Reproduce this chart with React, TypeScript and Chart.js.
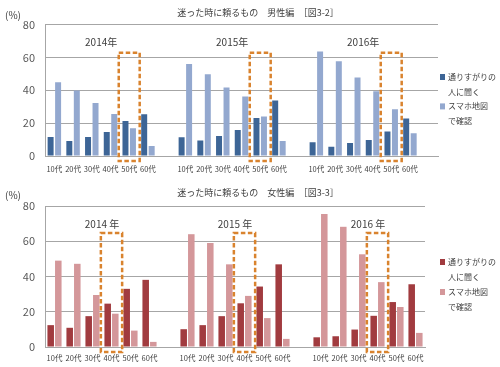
import React, { useEffect, useRef } from "react";
import { Chart, registerables } from "chart.js";
Chart.register(...registerables);

const FONT = '"Noto Sans CJK JP", "Noto Sans", sans-serif';

const AGES = ["10代", "20代", "30代", "40代", "50代", "60代"];
const MALE_YEARS = ["2014年", "2015年", "2016年"];
const FEMALE_YEARS = ["2014 年", "2015 年", "2016 年"];
const ASK_NAME = ["通りすがりの", "人に聞く"];
const MAP_NAME = ["スマホ地図", "で確認"];
const MALE_TITLE = "迷った時に頼るもの　男性編　［図3-2］";
const FEMALE_TITLE = "迷った時に頼るもの　女性編　［図3-3］";
const Y_TICKS = [0, 20, 40, 60, 80];

// 男性 (%)
const maleAsk2014 = [11.5, 9.1, 11.5, 14.6, 21.3, 25.4];
const maleMap2014 = [44.9, 39.9, 32.2, 25.6, 16.9, 6.1];
const maleAsk2015 = [11.4, 9.5, 12.1, 15.8, 23.1, 33.7];
const maleMap2015 = [56.0, 49.8, 41.6, 36.2, 24.0, 9.1];
const maleAsk2016 = [8.3, 5.7, 7.9, 9.7, 14.9, 22.8];
const maleMap2016 = [63.6, 57.6, 47.7, 39.4, 28.5, 13.9];

// 女性 (%)
const femaleAsk2014 = [12.4, 10.9, 17.5, 24.6, 33.0, 38.1];
const femaleMap2014 = [49.0, 47.2, 29.5, 18.9, 9.3, 2.9];
const femaleAsk2015 = [10.1, 12.4, 17.5, 24.8, 34.3, 46.9];
const femaleMap2015 = [64.0, 59.0, 46.9, 29.0, 16.4, 4.6];
const femaleAsk2016 = [5.5, 6.1, 9.9, 17.7, 25.5, 35.6];
const femaleMap2016 = [75.4, 68.2, 52.6, 36.8, 22.7, 8.0];

const MALE_HIGHLIGHT = "50代";
const FEMALE_HIGHLIGHT = "40代";

function joinGroups(groups: any[][], trailing: boolean, filler: any) {
  const out: any[] = [];
  groups.forEach((g, i) => {
    out.push(...g);
    if (i < groups.length - 1 || trailing) out.push(filler);
  });
  return out;
}

type Opts = {
  title: string;
  years: string[];
  highlight: string;
  labels: string[];
  ask: (number | null)[];
  map: (number | null)[];
  askColor: string;
  mapColor: string;
  padTop: number;
  padRight: number;
  xHeight: number;
  xPad: number;
  barPct: number;
  boxTop: number;
  legendY: number;
  legendStep: number;
};

function decor(o: Opts) {
  return {
    id: "decor",
    afterDraw(chart: any) {
      const ctx = chart.ctx;
      const xs = chart.scales.x;
      const ys = chart.scales.y;
      ctx.save();
      ctx.fillStyle = "#404040";
      ctx.textBaseline = "middle";
      ctx.font = `9px ${FONT}`;
      ctx.textAlign = "center";
      ctx.fillText(o.title, 258, 13);
      ctx.font = `10px ${FONT}`;
      ctx.textAlign = "left";
      ctx.fillText("(%)", 5, 15);
      const slot = xs.getPixelForValue(1) - xs.getPixelForValue(0);
      o.years.forEach((yr, g) => {
        const first = g * (AGES.length + 1);
        const last = first + AGES.length - 1;
        const cx = (xs.getPixelForValue(first) + xs.getPixelForValue(last)) / 2;
        ctx.fillStyle = "#404040";
        ctx.font = `10px ${FONT}`;
        ctx.textAlign = "center";
        ctx.fillText(yr, cx, ys.getPixelForValue(69.5));
        const hx = xs.getPixelForValue(first + AGES.indexOf(o.highlight));
        const half = slot * 0.56;
        const top = ys.getPixelForValue(o.boxTop);
        const bottom = ys.getPixelForValue(0) + 5;
        ctx.setLineDash([4.5, 2.5]);
        ctx.lineWidth = 2.5;
        ctx.strokeStyle = "#D9832E";
        ctx.strokeRect(hx - half, top, half * 2, bottom - top);
      });
      ctx.setLineDash([]);
      const lines: [string, string | null][] = [
        [ASK_NAME[0], o.askColor],
        [ASK_NAME[1], null],
        [MAP_NAME[0], o.mapColor],
        [MAP_NAME[1], null],
      ];
      ctx.font = `8px ${FONT}`;
      ctx.textAlign = "left";
      lines.forEach(([t, c], i) => {
        const y = o.legendY + i * o.legendStep;
        if (c) {
          ctx.fillStyle = c;
          ctx.fillRect(440, y - 3, 5, 6);
        }
        ctx.fillStyle = "#404040";
        ctx.fillText(t, 448, y);
      });
      ctx.restore();
    },
  };
}

function BarChart({ o, height }: { o: Opts; height: number }) {
  const ref = useRef<HTMLCanvasElement>(null);
  useEffect(() => {
    const chart = new Chart(ref.current as HTMLCanvasElement, {
      type: "bar",
      data: {
        labels: o.labels,
        datasets: [
          {
            label: ASK_NAME.join(""),
            data: o.ask,
            backgroundColor: o.askColor,
            categoryPercentage: 0.8,
            barPercentage: o.barPct,
          },
          {
            label: MAP_NAME.join(""),
            data: o.map,
            backgroundColor: o.mapColor,
            categoryPercentage: 0.8,
            barPercentage: o.barPct,
          },
        ],
      },
      options: {
        animation: false,
        responsive: false,
        devicePixelRatio: 1,
        layout: { padding: { top: o.padTop, right: o.padRight, left: 0, bottom: 0 } },
        plugins: { legend: { display: false }, tooltip: { enabled: false } },
        scales: {
          x: {
            grid: { display: false, drawTicks: false },
            border: { display: true, color: "#a6a6a6" },
            ticks: {
              autoSkip: false,
              maxRotation: 0,
              minRotation: 0,
              padding: o.xPad,
              color: "#404040",
              font: { family: FONT, size: 7.5 },
            },
            afterFit: (s: any) => {
              s.height = o.xHeight;
            },
          },
          y: {
            min: Y_TICKS[0],
            max: Y_TICKS[Y_TICKS.length - 1],
            afterBuildTicks: (s: any) => {
              s.ticks = Y_TICKS.map((v) => ({ value: v }));
            },
            grid: { color: "#a6a6a6", drawTicks: false },
            border: { display: true, color: "#a6a6a6" },
            ticks: {
              padding: 10,
              color: "#595959",
              font: { family: FONT, size: 11 },
            },
            afterFit: (s: any) => {
              s.width = 45;
            },
          },
        },
      },
      plugins: [decor(o)],
    } as any);
    return () => chart.destroy();
  }, []);
  return <canvas ref={ref} width={500} height={height} style={{ display: "block" }} />;
}

const maleOpts: Opts = {
  title: MALE_TITLE,
  years: MALE_YEARS,
  highlight: MALE_HIGHLIGHT,
  labels: joinGroups([AGES, AGES, AGES], true, ""),
  ask: joinGroups([maleAsk2014, maleAsk2015, maleAsk2016], true, null),
  map: joinGroups([maleMap2014, maleMap2015, maleMap2016], true, null),
  askColor: "#3D6596",
  mapColor: "#93A8CF",
  padTop: 24.5,
  padRight: 62,
  xHeight: 24,
  xPad: 8.5,
  barPct: 0.8,
  boxTop: 62.8,
  legendY: 77,
  legendStep: 14.7,
};

const femaleOpts: Opts = {
  title: FEMALE_TITLE,
  years: FEMALE_YEARS,
  highlight: FEMALE_HIGHLIGHT,
  labels: joinGroups([AGES, AGES, AGES], false, ""),
  ask: joinGroups([femaleAsk2014, femaleAsk2015, femaleAsk2016], false, null),
  map: joinGroups([femaleMap2014, femaleMap2015, femaleMap2016], false, null),
  askColor: "#A13B3F",
  mapColor: "#D4979A",
  padTop: 26,
  padRight: 75,
  xHeight: 20,
  xPad: 6.5,
  barPct: 0.86,
  boxTop: 64.7,
  legendY: 82,
  legendStep: 15,
};

export default function App() {
  return (
    <div style={{ position: "absolute", left: 0, top: 0, width: 500, height: 367, background: "#fff" }}>
      <BarChart o={maleOpts} height={180} />
      <BarChart o={femaleOpts} height={187} />
    </div>
  );
}
